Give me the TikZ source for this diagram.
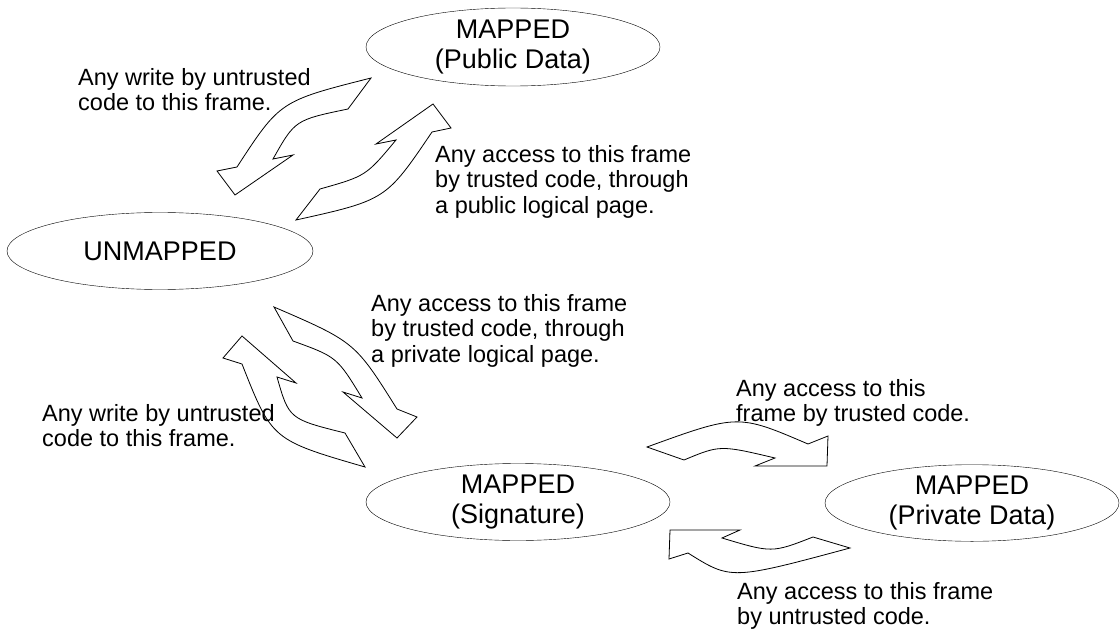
\documentclass[tikz,border=0pt]{standalone}
\usepackage{fontspec}
\setmainfont{Liberation Sans}
\usetikzlibrary{shapes.geometric}
\tikzset{
  state/.style={draw, ellipse, inner sep=0pt, align=center,
    font=\fontsize{27}{30}\selectfont},
  note/.style={anchor=north west, inner sep=0pt, align=left,
    font=\fontsize{23.5}{25.5}\selectfont},
  blockarrow/.style={draw, fill=white, line width=0.8pt}
}
\begin{document}
\begin{tikzpicture}[x=1pt, y=-1pt, line join=miter]
  \useasboundingbox (0,0) rectangle (1120,634);
  % the four states
  \node[state, minimum width=294pt, minimum height=78pt] (pub) at (513,47) {MAPPED\\(Public Data)};
  \node[state, minimum width=306pt, minimum height=77pt] (unm) at (160,251) {UNMAPPED};
  \node[state, minimum width=304pt, minimum height=77pt] (sig) at (518,502) {MAPPED\\(Signature)};
  \node[state, minimum width=294pt, minimum height=74pt] (prv) at (972,503) {MAPPED\\(Private Data)};
  % public <-> unmapped
  \draw[blockarrow] (371,78) .. controls (280,101) .. (237,167) -- (217,171) -- (235,195)
    -- (293,155) -- (273,159) .. controls (295,120) .. (348,109) -- cycle;
  \draw[blockarrow] (296,220) -- (320,189) .. controls (366,176) .. (396,140) -- (376,144)
    -- (433,104) -- (451,128) -- (432,132) .. controls (386,200) .. cycle;
  % unmapped <-> signature
  \draw[blockarrow] (242,336) -- (296,383) -- (277,377) .. controls (289,419) .. (345,433)
    -- (365,467) .. controls (272,440) .. (242,364) -- (223,358) -- cycle;
  \draw[blockarrow] (274,307) -- (293,341) .. controls (337,357) .. (362,398) -- (343,392)
    -- (397,438) -- (417,417) -- (397,409) .. controls (355,342) .. cycle;
  % signature <-> private
  \draw[blockarrow] (647,447) -- (684,460) .. controls (720,445) .. (775,458) -- (755,466)
    -- (827,466) -- (828,436) -- (808,444) .. controls (738,414) .. cycle;
  \draw[blockarrow] (669,559) -- (670,530) -- (740,530) -- (722,538) .. controls (772,553) .. (813,537)
    -- (850,548) .. controls (731,580) .. (688,553) -- cycle;
  % labels
  \node[note] (w1) at (78,68) {Any write by untrusted\\code to this frame.};
  \node[note] (a1) at (435,145) {Any access to this frame\\by trusted code, through\\a public logical page.};
  \node[note] (a2) at (371,294) {Any access to this frame\\by trusted code, through\\a private logical page.};
  \node[note] (w2) at (42,404) {Any write by untrusted\\code to this frame.};
  \node[note] (a3) at (736,379) {Any access to this\\frame by trusted code.};
  \node[note] (a4) at (737,582) {Any access to this frame\\by untrusted code.};
\end{tikzpicture}
\end{document}
